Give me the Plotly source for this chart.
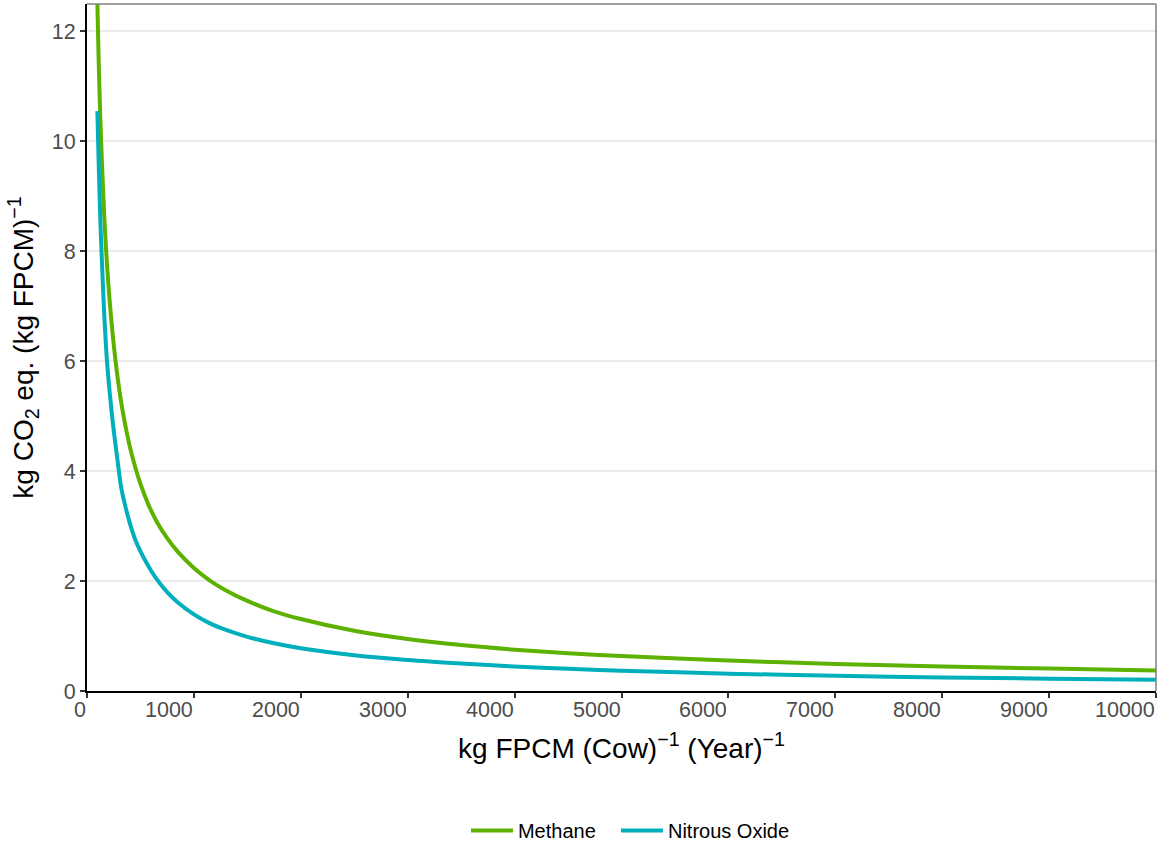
import plotly.graph_objects as go

# Emissions intensity versus annual milk yield per cow
methane_x = [95, 100, 110, 125, 140, 160, 180, 200, 225, 250, 280, 320, 360, 400,
             450, 500, 575, 650, 750, 850, 1000, 1150, 1300, 1500, 1750, 2000,
             2500, 3000, 3500, 4000, 4500, 5000, 6000, 7000, 8000, 9000, 10000]
methane_y = [12.75, 12.26, 11.41, 10.4, 9.6, 8.7, 7.98, 7.4, 6.8, 6.3, 5.8, 5.25, 4.82, 4.45,
             4.08, 3.77, 3.39, 3.09, 2.78, 2.53, 2.24, 2.01, 1.83, 1.64, 1.45, 1.31,
             1.095, 0.945, 0.835, 0.752, 0.688, 0.636, 0.555, 0.493, 0.446, 0.408, 0.375]

nitrous_x = [97, 110, 125, 140, 160, 187, 215, 245, 280, 320, 360, 400, 450, 500,
             575, 650, 750, 850, 1000, 1150, 1300, 1500, 1750, 2000, 2500, 3000,
             3500, 4000, 4500, 5000, 6000, 7000, 8000, 9000, 10000]
nitrous_y = [10.55, 9.55, 8.55, 7.8, 6.9, 6.0, 5.38, 4.82, 4.28, 3.7, 3.35, 3.06, 2.76, 2.54,
             2.27, 2.04, 1.8, 1.61, 1.395, 1.23, 1.11, 0.985, 0.868, 0.778, 0.651, 0.563,
             0.499, 0.4455, 0.403, 0.369, 0.316, 0.277, 0.247, 0.224, 0.205]

x_tick_values = [0, 1000, 2000, 3000, 4000, 5000, 6000, 7000, 8000, 9000, 10000]
x_tick_labels = ["0", "1000", "2000", "3000", "4000", "5000", "6000", "7000",
                 "8000", "9000", "10000"]
y_tick_values = [0, 2, 4, 6, 8, 10, 12]
y_tick_labels = ["0", "2", "4", "6", "8", "10", "12"]

series_names = ["Methane", "Nitrous Oxide"]
series_colors = ["#5DB100", "#00AFBB"]
# each key gets its own legend box so the spacing between entries can be set
series_legends = ["legend", "legend2"]

FONT = "Liberation Sans, Arial, sans-serif"
TICK_GREY = "#4D4D4D"
TICK_SIZE = 21.5

fig = go.Figure()
for name, color, lg, xs, ys in zip(series_names, series_colors, series_legends,
                                   [methane_x, nitrous_x], [methane_y, nitrous_y]):
    fig.add_trace(go.Scatter(
        x=xs, y=ys, mode="lines", name=name, legend=lg,
        line=dict(color=color, width=4, shape="spline", smoothing=0.8),
    ))

# x tick labels sit right-aligned against their tick marks
annotations = [
    dict(x=v, xref="x", y=0, yref="paper", text=lab, showarrow=False,
         xanchor="right", yanchor="top", yshift=-6, borderpad=0,
         font=dict(family=FONT, size=TICK_SIZE, color=TICK_GREY))
    for v, lab in zip(x_tick_values, x_tick_labels)
]

# grey panel border on the top and right edges
shapes = [
    dict(type="line", xref="x domain", yref="y domain", x0=0, x1=1, y0=1, y1=1,
         line=dict(color="#7F7F7F", width=1.5), layer="above"),
    dict(type="line", xref="x domain", yref="y domain", x0=1, x1=1, y0=0, y1=1,
         line=dict(color="#7F7F7F", width=1.5), layer="above"),
]

legend_style = dict(orientation="h", xanchor="left", y=-0.203, yanchor="middle",
                    font=dict(family=FONT, size=20, color="black"),
                    itemwidth=42, bgcolor="rgba(0,0,0,0)")

fig.update_layout(
    width=1159, height=846,
    margin=dict(l=87, r=3, t=4, b=155, autoexpand=False),
    paper_bgcolor="white", plot_bgcolor="white",
    font=dict(family=FONT, color="black"),
    showlegend=True,
    legend=dict(x=0.3545, **legend_style),
    legend2=dict(x=0.4948, **legend_style),
    annotations=annotations,
    shapes=shapes,
    xaxis=dict(
        range=[0, 10000], tickvals=x_tick_values, showticklabels=False,
        ticks="outside", ticklen=5, tickwidth=1.5, tickcolor="#333333",
        showgrid=False, zeroline=False, automargin=False,
        showline=True, linecolor="black", linewidth=2,
        title=dict(text="kg FPCM (Cow)<sup>−1</sup> (Year)<sup>−1</sup>",
                   font=dict(family=FONT, size=28, color="black"), standoff=41),
    ),
    yaxis=dict(
        range=[0, 12.5], tickvals=y_tick_values, ticktext=y_tick_labels,
        ticks="outside", ticklen=5, tickwidth=1.5, tickcolor="#333333",
        tickfont=dict(family=FONT, size=TICK_SIZE, color=TICK_GREY),
        showgrid=True, gridcolor="#EBEBEB", gridwidth=1.5, zeroline=False,
        automargin=False,
        showline=True, linecolor="black", linewidth=2,
        title=dict(text="kg CO<sub>2</sub> eq. (kg FPCM)<sup>−1</sup>",
                   font=dict(family=FONT, size=28, color="black"), standoff=10),
    ),
)

fig.write_html("out.html")
